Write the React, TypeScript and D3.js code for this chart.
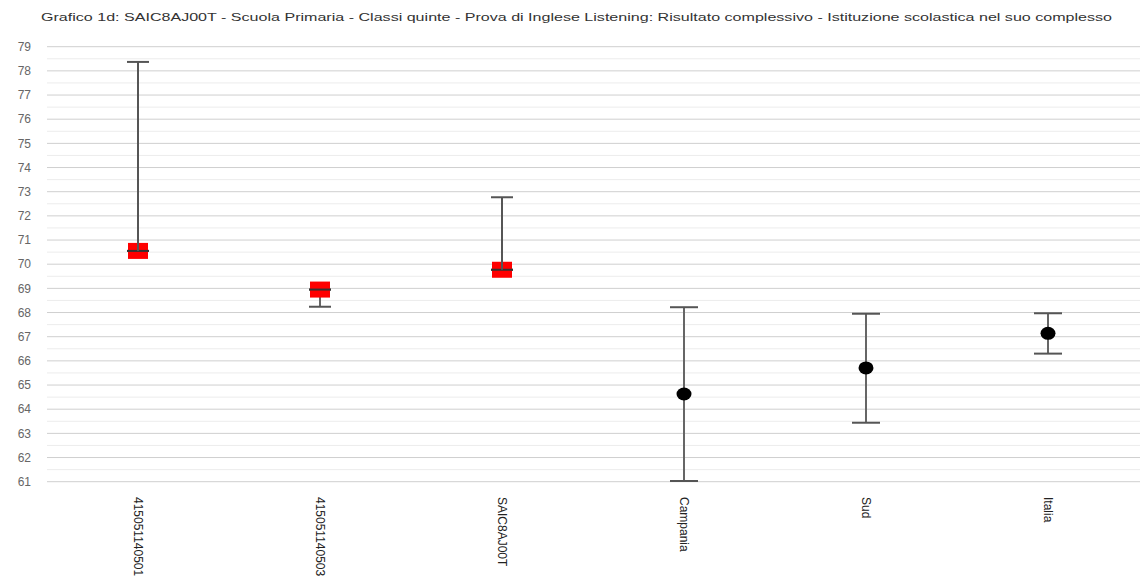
import React from "react";
import * as d3 from "d3";

const title =
  "Grafico 1d: SAIC8AJ00T - Scuola Primaria - Classi quinte - Prova di Inglese Listening: Risultato complessivo - Istituzione scolastica nel suo complesso";

const categories = ["415051140501", "415051140503", "SAIC8AJ00T", "Campania", "Sud", "Italia"];
const kinds = ["scuola", "scuola", "scuola", "riferimento", "riferimento", "riferimento"];
const means = [70.55, 68.95, 69.77, 64.63, 65.71, 67.14];
const lowers = [70.55, 68.24, 69.77, 61.03, 63.44, 66.3];
const uppers = [78.37, 68.95, 72.77, 68.22, 67.95, 67.97];
const yTicks = d3.range(61, 80, 1);
const yMinorTicks = d3.range(61.5, 79, 1);

const W = 1140;
const H = 579;

export default function App() {
  const y = d3.scaleLinear().domain([61, 79]).range([481.7, 46.7]);
  const x = d3.scaleBand<string>().domain(categories).range([47, 1139]);
  const cx = (c: string) => (x(c) as number) + x.bandwidth() / 2;
  const font = "'Liberation Sans', Arial, sans-serif";

  return (
    <svg
      width={W}
      height={H}
      style={{ position: "absolute", left: 0, top: 0, display: "block", background: "#fff" }}
    >
      <text x={41} y={21} fontFamily={font} fontSize={11.5} fill="#333" textLength={1071} lengthAdjust="spacingAndGlyphs">
        {title}
      </text>
      {yMinorTicks.map((t) => (
        <line key={"m" + t} x1={47} x2={W} y1={y(t)} y2={y(t)} stroke="#ececec" strokeWidth={1} />
      ))}
      {yTicks.map((t) => (
        <line key={"g" + t} x1={47} x2={W} y1={y(t)} y2={y(t)} stroke="#cfcfcf" strokeWidth={1} />
      ))}
      {yTicks.map((t) => (
        <text key={"t" + t} x={31} y={y(t)} dy="0.35em" textAnchor="end" fontFamily={font} fontSize={12} fill="#666">
          {t}
        </text>
      ))}
      {categories.map((c, i) => {
        const px = cx(c);
        const school = kinds[i] === "scuola";
        const cap = school ? 11 : 14;
        return (
          <g key={c}>
            <line x1={px} x2={px} y1={y(uppers[i])} y2={y(lowers[i])} stroke="#666" strokeWidth={2} />
            <line x1={px - cap} x2={px + cap} y1={y(uppers[i])} y2={y(uppers[i])} stroke="#555" strokeWidth={2} />
            <line x1={px - cap} x2={px + cap} y1={y(lowers[i])} y2={y(lowers[i])} stroke="#555" strokeWidth={2} />
            {school ? (
              <g>
                <rect x={px - 10} y={y(means[i]) - 8} width={20} height={16} fill="#ff0000" />
                <line x1={px - 11} x2={px + 11} y1={y(means[i])} y2={y(means[i])} stroke="#333" strokeWidth={2} />
                <line x1={px} x2={px} y1={y(means[i])} y2={y(Math.max(uppers[i], means[i]))} stroke="#555" strokeWidth={2} />
              </g>
            ) : (
              <ellipse cx={px} cy={y(means[i])} rx={7.5} ry={6.5} fill="#000" />
            )}
            <text
              transform={`translate(${px - 4},497) rotate(90)`}
              fontFamily={font}
              fontSize={12}
              fill="#222"
            >
              {c}
            </text>
          </g>
        );
      })}
    </svg>
  );
}
